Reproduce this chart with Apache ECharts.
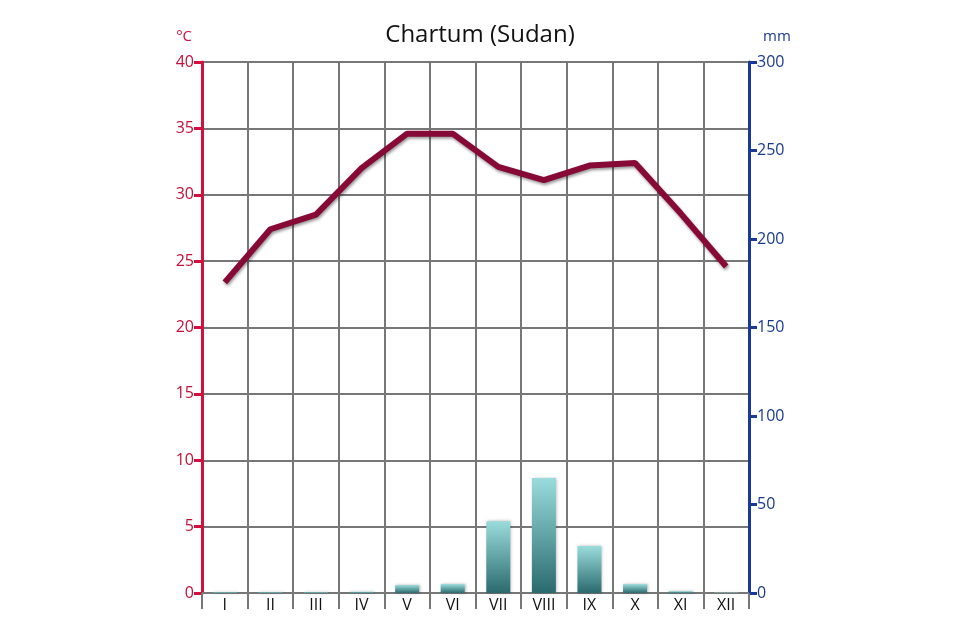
<!DOCTYPE html>
<html><head><meta charset="utf-8">
<script src="https://cdn.jsdelivr.net/npm/echarts@6/dist/echarts.min.js"></script>
<style>html,body{margin:0;background:#fff}#c{width:960px;height:640px}</style>
</head><body><div id="c"></div>
<script>
const months = ['I','II','III','IV','V','VI','VII','VIII','IX','X','XI','XII'];
const temperature = [23.4, 27.4, 28.5, 32.0, 34.6, 34.6, 32.1, 31.1, 32.2, 32.4, 28.6, 24.6];
const precipitation = [0.5, 0.5, 0.5, 0.7, 4.5, 5, 40.5, 65, 26.5, 5, 1, 0.2];
const chart = echarts.init(document.getElementById('c'));
chart.setOption({
  animation:false,
  title:{text:'Chartum (Sudan)',left:'center',top:18,textStyle:{fontFamily:'Open Sans',fontSize:24,fontWeight:'normal',color:'#111'}},
  grid:{left:202,right:211,top:62,bottom:47},
  xAxis:{type:'category',data:months,
    axisLine:{lineStyle:{color:'#777',width:2}},
    axisTick:{show:true,length:16,lineStyle:{color:'#777',width:2}},
    splitLine:{show:true,lineStyle:{color:'#777',width:2}},
    axisLabel:{color:'#111',fontFamily:'Open Sans',fontSize:16,margin:4}},
  yAxis:[
    {type:'value',min:0,max:40,interval:5,name:'°C',nameLocation:'end',nameGap:18,
     nameTextStyle:{color:'#d0103e',fontFamily:'Open Sans',fontSize:15,align:'right',padding:[0,10,0,0]},
     axisLine:{show:true,lineStyle:{color:'#d0103e',width:3}},
     axisTick:{show:true,length:8,lineStyle:{color:'#d0103e',width:3}},
     axisLabel:{color:'#c4103a',fontFamily:'Open Sans',fontSize:16,margin:8},
     splitLine:{lineStyle:{color:'#777',width:2}}},
    {type:'value',min:0,max:300,interval:50,name:'mm',nameLocation:'end',nameGap:18,
     nameTextStyle:{color:'#1a3a8f',fontFamily:'Open Sans',fontSize:15,align:'left',padding:[0,0,0,14]},
     axisLine:{show:true,lineStyle:{color:'#1a3a9a',width:3}},
     axisTick:{show:true,length:8,lineStyle:{color:'#1a3a9a',width:3}},
     axisLabel:{color:'#1a3a8f',fontFamily:'Open Sans',fontSize:16,margin:8},
     splitLine:{show:false}}
  ],
  series:[
    {type:'bar',yAxisIndex:1,data:precipitation,barWidth:24,
     itemStyle:{color:new echarts.graphic.LinearGradient(0,0,0,1,[{offset:0,color:'#9adcdc'},{offset:1,color:'#2a6a6d'}]),
       shadowColor:'rgba(0,0,0,0.3)',shadowBlur:3,shadowOffsetX:1}},
    {type:'line',yAxisIndex:0,data:temperature,symbol:'none',z:5,
     lineStyle:{color:'#870a36',width:6,shadowColor:'rgba(0,0,0,0.4)',shadowBlur:3,shadowOffsetX:1,shadowOffsetY:2}}
  ]
});
</script></body></html>
